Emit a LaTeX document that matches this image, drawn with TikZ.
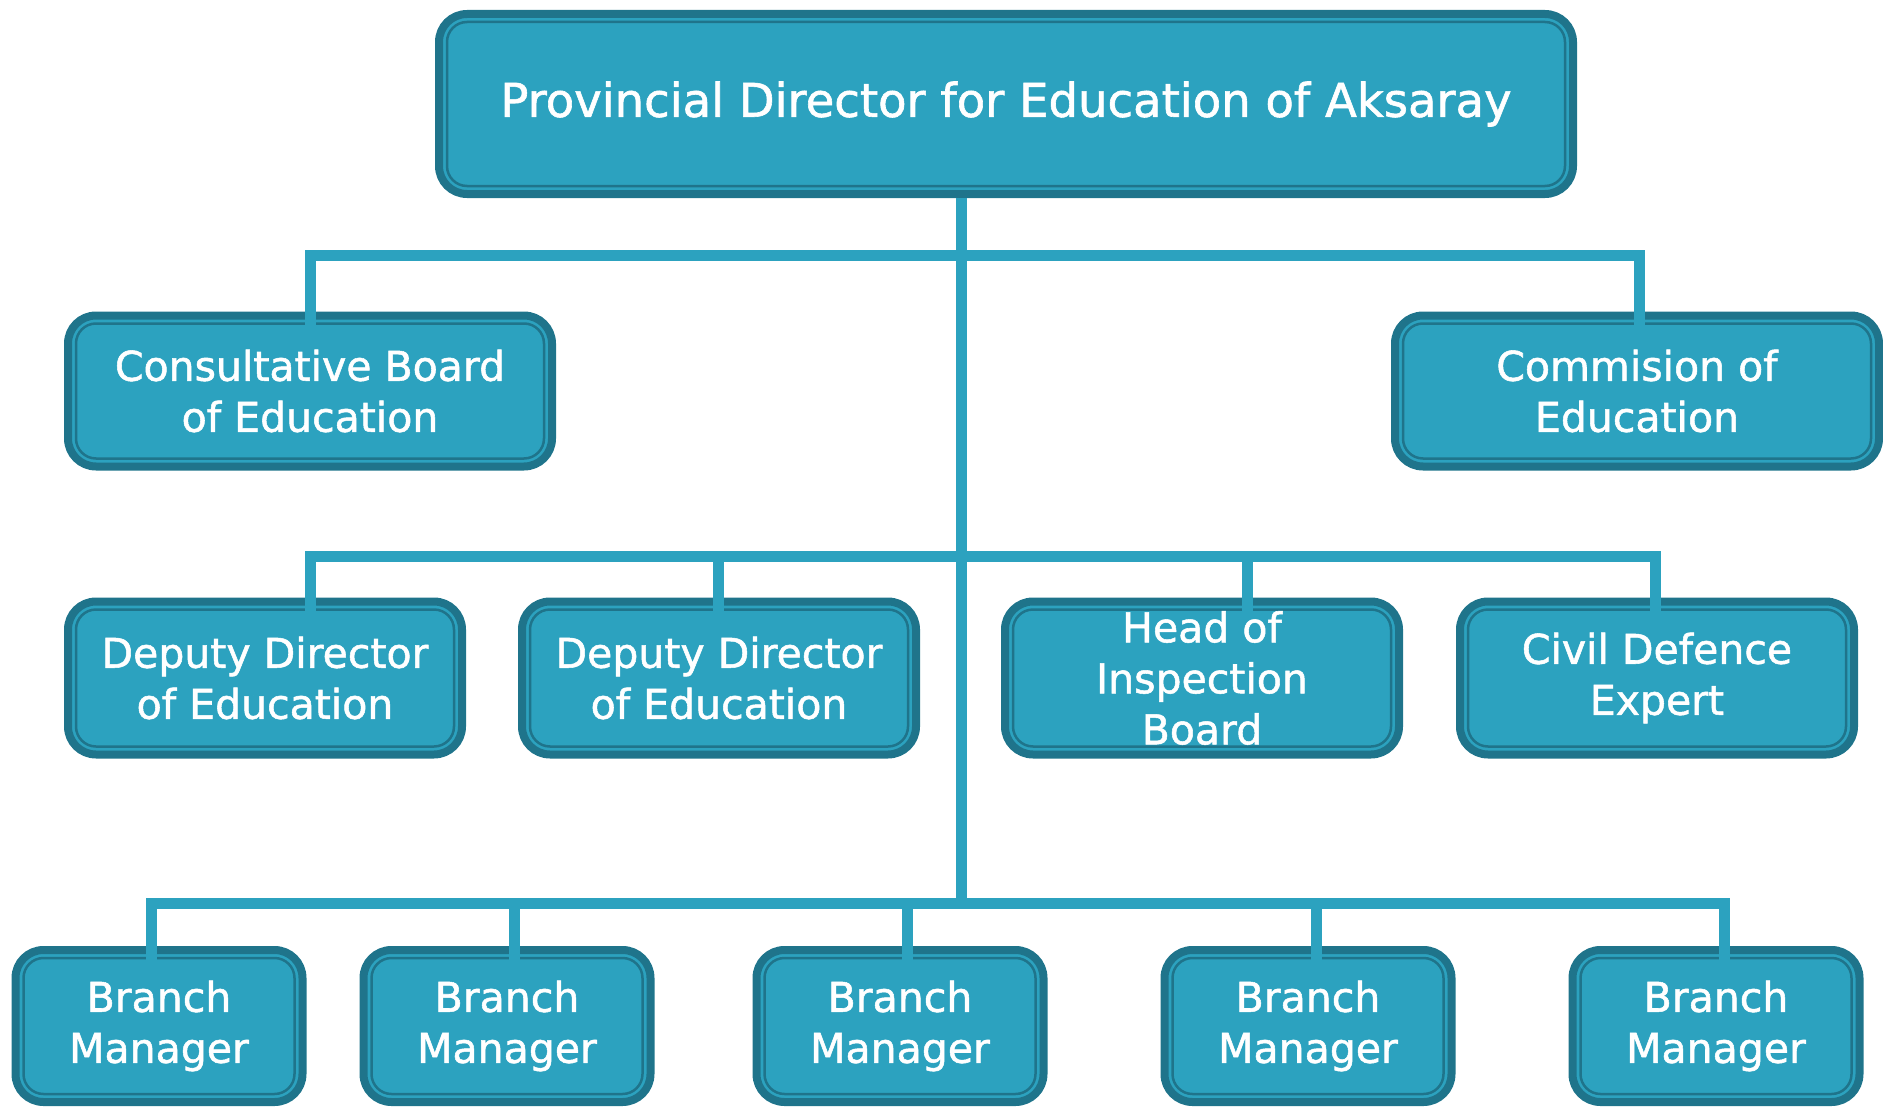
\documentclass[tikz,border=0pt]{standalone}
\usepackage{fontspec}
\setmainfont{DejaVu Sans}[FakeBold=1.3]
\usetikzlibrary{positioning}
\definecolor{boxfill}{RGB}{44,162,191}
\definecolor{boxline}{RGB}{31,116,139}
\tikzstyle{block} = [draw=boxline, line width=8pt, fill=boxfill, rectangle,
    rounded corners=28pt, text=white, align=center, inner sep=0pt,
    font=\fontsize{41}{51}\selectfont,
    path picture={\draw[boxline, line width=2.5pt, rounded corners=20pt]
      ([shift={(8pt,8pt)}]path picture bounding box.south west) rectangle
      ([shift={(-8pt,-8pt)}]path picture bounding box.north east);}]
\tikzstyle{head} = [block, minimum width=1134pt, minimum height=180pt,
    font=\fontsize{46.5}{54}\selectfont]
\tikzstyle{board} = [block, minimum width=484pt, minimum height=151pt]
\tikzstyle{deputy} = [block, minimum width=394pt, minimum height=153pt]
\tikzstyle{branch} = [block, minimum width=287pt, minimum height=152pt]
\tikzstyle{link} = [draw=boxfill, line width=11pt, line cap=rect, line join=miter]

\begin{document}
\begin{tikzpicture}[x=1pt,y=-1pt]
\useasboundingbox (0,0) rectangle (1883,1108);

\node[head, name=director] at (1006,104) {Provincial Director for Education of Aksaray};

\node[board, name=consult] at (310,391) {Consultative Board\\of Education};
\node[board, name=commission] at (1637,391) {Commision of\\Education};

\node[deputy, name=deputyA] at (265,678) {Deputy Director\\of Education};
\node[deputy, name=deputyB] at (719,678) {Deputy Director\\of Education};
\node[deputy, name=inspection] at (1202,678) {Head of\\Inspection\\Board};
\node[deputy, name=defence] at (1657,678) {Civil Defence\\Expert};

\node[branch, name=branchA] at (159,1026) {Branch\\Manager};
\node[branch, name=branchB] at (507,1026) {Branch\\Manager};
\node[branch, name=branchC] at (900,1026) {Branch\\Manager};
\node[branch, name=branchD] at (1308,1026) {Branch\\Manager};
\node[branch, name=branchE] at (1716,1026) {Branch\\Manager};

% bus junctions
\coordinate (T) at (961,903);
\coordinate (B1) at (310,255);
\coordinate (B2) at (1639,255);
\coordinate (D1) at (310,556);
\coordinate (D2) at (718,556);
\coordinate (D3) at (1247,556);
\coordinate (D4) at (1655,556);
\coordinate (E1) at (151,903);
\coordinate (E2) at (514,903);
\coordinate (E3) at (907,903);
\coordinate (E4) at (1316,903);
\coordinate (E5) at (1724,903);

\draw[link, line cap=butt] (T |- director.south) -- (T);

\draw[link] (B1) -- (B2);
\draw[link, shorten >=-8pt] (B1) -- (B1 |- consult.north);
\draw[link, shorten >=-8pt] (B2) -- (B2 |- commission.north);

\draw[link] (D1) -- (D4);
\draw[link, shorten >=-8pt] (D1) -- (D1 |- deputyA.north);
\draw[link, shorten >=-8pt] (D2) -- (D2 |- deputyB.north);
\draw[link, shorten >=-8pt] (D3) -- (D3 |- inspection.north);
\draw[link, shorten >=-8pt] (D4) -- (D4 |- defence.north);

\draw[link] (E1) -- (E5);
\draw[link, shorten >=-8pt] (E1) -- (E1 |- branchA.north);
\draw[link, shorten >=-8pt] (E2) -- (E2 |- branchB.north);
\draw[link, shorten >=-8pt] (E3) -- (E3 |- branchC.north);
\draw[link, shorten >=-8pt] (E4) -- (E4 |- branchD.north);
\draw[link, shorten >=-8pt] (E5) -- (E5 |- branchE.north);

\end{tikzpicture}
\end{document}
